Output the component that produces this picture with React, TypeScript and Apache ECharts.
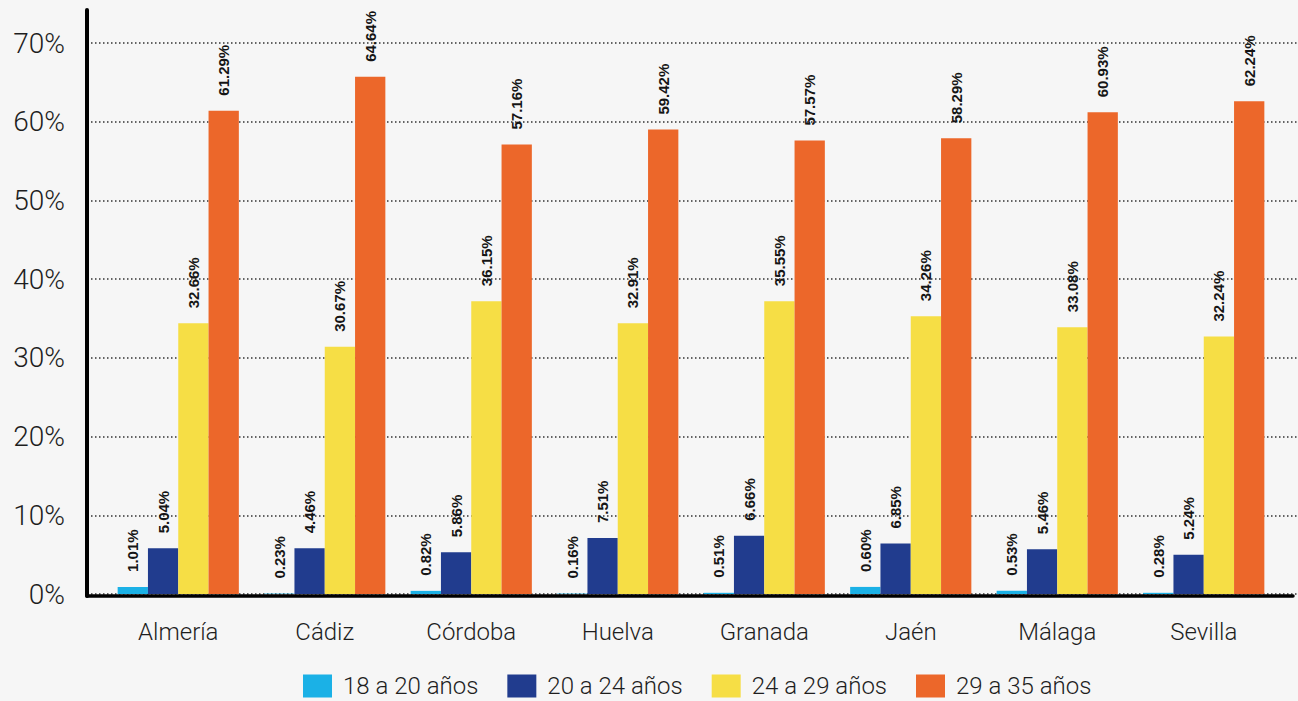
import React, { useEffect, useRef } from "react";
import * as echarts from "echarts";

const categories = ["Almería", "Cádiz", "Córdoba", "Huelva", "Granada", "Jaén", "Málaga", "Sevilla"];
const seriesNames = ["18 a 20 años", "20 a 24 años", "24 a 29 años", "29 a 35 años"];
const seriesColors = ["#1BB1E6", "#213C8E", "#F6DE45", "#EC672A"];

// bar heights as drawn in the picture (%)
const bars18a20 = [0.9, 0.05, 0.4, 0.05, 0.15, 0.9, 0.4, 0.15];
const bars20a24 = [5.8, 5.8, 5.3, 7.1, 7.4, 6.4, 5.7, 5.0];
const bars24a29 = [34.4, 31.4, 37.2, 34.4, 37.2, 35.3, 33.9, 32.7];
const bars29a35 = [61.4, 65.7, 57.1, 59.0, 57.6, 57.9, 61.2, 62.6];

// printed value labels (%)
const labels18a20 = [1.01, 0.23, 0.82, 0.16, 0.51, 0.6, 0.53, 0.28];
const labels20a24 = [5.04, 4.46, 5.86, 7.51, 6.66, 6.85, 5.46, 5.24];
const labels24a29 = [32.66, 30.67, 36.15, 32.91, 35.55, 34.26, 33.08, 32.24];
const labels29a35 = [61.29, 64.64, 57.16, 59.42, 57.57, 58.29, 60.93, 62.24];

const yTicks = [0, 10, 20, 30, 40, 50, 60, 70];

export default function App() {
  const ref = useRef<HTMLDivElement>(null);

  useEffect(() => {
    document.body.style.margin = "0";
    const chart = echarts.init(ref.current!, null, { renderer: "svg" });
    const bars = [bars18a20, bars20a24, bars24a29, bars29a35];
    const labels = [labels18a20, labels20a24, labels24a29, labels29a35];
    const yMax = yTicks[yTicks.length - 1];

    const option: any = {
      animation: false,
      backgroundColor: "#F6F6F6",
      grid: [
        { left: 87, right: 5, top: 10, bottom: 105 },
        { left: 87, right: 0, top: 43, bottom: 107 },
        { left: 105, right: 21, top: 43, bottom: 107 },
      ],
      xAxis: [
        {
          gridIndex: 0,
          type: "value",
          min: 0,
          max: 1,
          z: 10,
          axisLine: { show: true, lineStyle: { color: "#000", width: 3.5 } },
          axisTick: { show: false },
          axisLabel: { show: false },
          splitLine: { show: false },
        },
        { gridIndex: 1, type: "value", min: 0, max: 1, show: false },
        {
          gridIndex: 2,
          type: "category",
          data: categories,
          axisLine: { show: false },
          axisTick: { show: false },
          axisLabel: {
            margin: 26,
            fontFamily: "Roboto",
            fontWeight: 300,
            fontSize: 24,
            color: "#1e1e1e",
          },
        },
      ],
      yAxis: [
        {
          gridIndex: 0,
          type: "value",
          min: 0,
          max: 1,
          z: 10,
          axisLine: { show: true, lineStyle: { color: "#000", width: 4 } },
          axisTick: { show: false },
          axisLabel: { show: false },
          splitLine: { show: false },
        },
        {
          gridIndex: 1,
          type: "value",
          min: 0,
          max: yMax,
          interval: 10,
          axisLine: { show: false },
          axisTick: { show: false },
          axisLabel: {
            formatter: "{value}%",
            margin: 22,
            fontFamily: "Roboto",
            fontWeight: 300,
            fontSize: 28,
            color: "#1e1e1e",
          },
          splitLine: {
            show: true,
            lineStyle: { color: "#333", width: 1.5, type: [1.5, 2.5] },
          },
        },
        { gridIndex: 2, type: "value", min: 0, max: yMax, show: false },
      ],
      legend: {
        left: 303,
        top: 674,
        padding: 0,
        icon: "rect",
        itemWidth: 29,
        itemHeight: 23,
        itemGap: 29,
        data: seriesNames,
        textStyle: {
          fontFamily: "Roboto",
          fontWeight: 300,
          fontSize: 24,
          lineHeight: 23,
          color: "#1e1e1e",
          padding: [0, 0, 0, 6],
        },
      },
      series: seriesNames.map((name, i) => ({
        name,
        type: "bar",
        xAxisIndex: 2,
        yAxisIndex: 2,
        data: bars[i],
        barWidth: 30.3,
        barGap: "0%",
        itemStyle: { color: seriesColors[i] },
        label: {
          show: true,
          position: "top",
          distance: 15,
          rotate: 90,
          align: "left",
          verticalAlign: "middle",
          fontFamily: "Liberation Sans",
          fontWeight: "bold",
          fontSize: 15,
          color: "#151515",
          formatter: (p: any) => labels[i][p.dataIndex].toFixed(2) + "%",
        },
      })),
    };

    chart.setOption(option);
    return () => chart.dispose();
  }, []);

  return <div ref={ref} style={{ width: 1298, height: 701, background: "#F6F6F6" }} />;
}
